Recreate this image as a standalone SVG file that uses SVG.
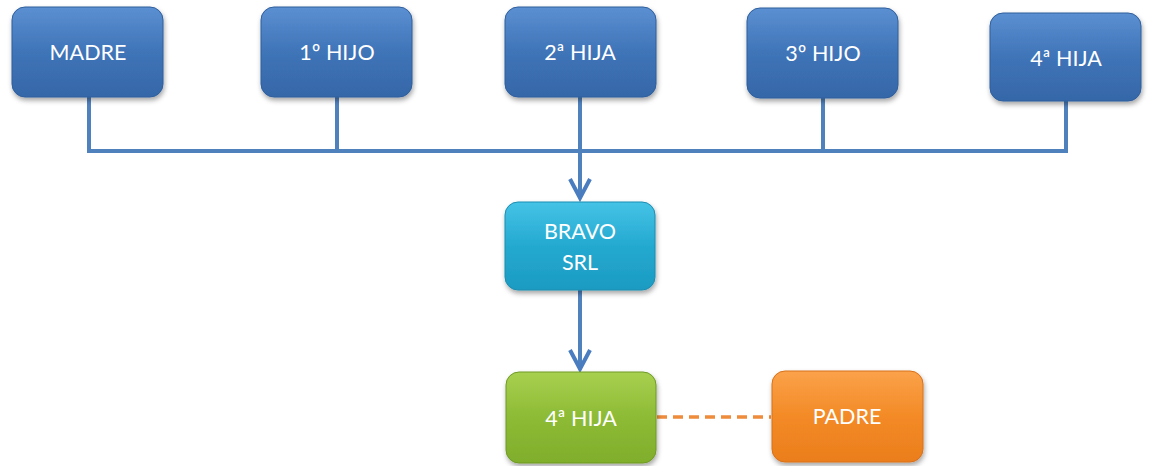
<svg xmlns="http://www.w3.org/2000/svg" width="1149" height="466" viewBox="0 0 1149 466">
<defs>
<linearGradient id="gBlue" x1="0" y1="0" x2="0" y2="1"><stop offset="0" stop-color="#5B90D2"/><stop offset="0.5" stop-color="#3F74B8"/><stop offset="1" stop-color="#3567A8"/></linearGradient>
<linearGradient id="gCyan" x1="0" y1="0" x2="0" y2="1"><stop offset="0" stop-color="#45C3E6"/><stop offset="0.5" stop-color="#24A9D0"/><stop offset="1" stop-color="#1C9BC2"/></linearGradient>
<linearGradient id="gGreen" x1="0" y1="0" x2="0" y2="1"><stop offset="0" stop-color="#A8D050"/><stop offset="0.5" stop-color="#8DBB35"/><stop offset="1" stop-color="#80AE2C"/></linearGradient>
<linearGradient id="gOrange" x1="0" y1="0" x2="0" y2="1"><stop offset="0" stop-color="#FBA24A"/><stop offset="0.5" stop-color="#F38A26"/><stop offset="1" stop-color="#EB7E1C"/></linearGradient>
<filter id="sh" x="-10%" y="-10%" width="125%" height="130%"><feDropShadow dx="1" dy="3" stdDeviation="2.5" flood-color="#000" flood-opacity="0.35"/></filter>
<marker id="arr" viewBox="0 0 24 26" refX="21" refY="13" markerWidth="24" markerHeight="26" markerUnits="userSpaceOnUse" orient="auto" overflow="visible">
<path d="M2,3 L21,13 L2,23" fill="none" stroke="#4A7CC0" stroke-width="4" stroke-linejoin="miter"/>
</marker>
<style>
.box{filter:url(#sh);stroke-width:1}
.blue{fill:url(#gBlue);stroke:#2F5E9C}
.cyan{fill:url(#gCyan);stroke:#1A8DB2}
.green{fill:url(#gGreen);stroke:#6F9A25}
.orange{fill:url(#gOrange);stroke:#D8701A}
.t{font-family:Lato,"Open Sans","Liberation Sans",sans-serif;font-size:21.5px;fill:#FFFFFF;text-anchor:middle;dominant-baseline:central}
.ln{fill:none;stroke:#4F81BD;stroke-width:4}
</style>
</defs>
<g id="connectors">
<path class="ln" d="M89,97 V151 H1066 V101"/>
<path class="ln" d="M337,97 V151"/>
<path class="ln" d="M823,98 V151"/>
<path class="ln" d="M580,97 V198" stroke="#4A7CC0" marker-end="url(#arr)"/>
<path class="ln" d="M580,290 V369" stroke="#4A7CC0" marker-end="url(#arr)"/>
<path d="M657,417 H771" fill="none" stroke="#EE8C3C" stroke-width="3.5" stroke-dasharray="10,6"/>
</g>
<g id="madre"><rect class="box blue" x="12" y="7" width="151" height="90" rx="13"/><text class="t" x="88" y="52">MADRE</text></g>
<g id="hijo1"><rect class="box blue" x="261" y="7" width="151" height="90" rx="13"/><text class="t" x="337" y="52">1º HIJO</text></g>
<g id="hija2"><rect class="box blue" x="505" y="7" width="151" height="90" rx="13"/><text class="t" x="580" y="52">2ª HIJA</text></g>
<g id="hijo3"><rect class="box blue" x="747" y="8" width="151" height="90" rx="13"/><text class="t" x="823" y="53">3º HIJO</text></g>
<g id="hija4top"><rect class="box blue" x="990" y="13" width="151" height="88" rx="13"/><text class="t" x="1066" y="58">4ª HIJA</text></g>
<g id="bravo"><rect class="box cyan" x="505" y="202" width="150" height="88" rx="13"/><text class="t" x="580" y="231">BRAVO</text><text class="t" x="580" y="262">SRL</text></g>
<g id="hija4"><rect class="box green" x="506" y="372" width="150" height="91" rx="13"/><text class="t" x="581" y="418">4ª HIJA</text></g>
<g id="padre"><rect class="box orange" x="772" y="371" width="151" height="91" rx="13"/><text class="t" x="847" y="416">PADRE</text></g>
</svg>
